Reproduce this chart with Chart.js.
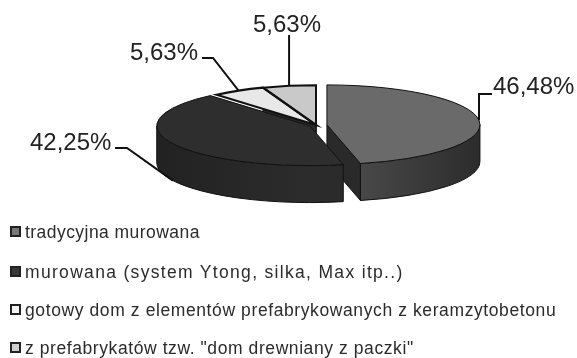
<!DOCTYPE html>
<html lang="pl">
<head>
<meta charset="utf-8">
<title>Rodzaj budowy domu</title>
<script src="https://cdn.jsdelivr.net/npm/chart.js@4"></script>
<style>
    html, body { margin: 0; padding: 0; background: #fff; }
    #wrap { position: relative; width: 577px; height: 358px; overflow: hidden; }
    #legend { position: absolute; left: 10px; top: 0; font-family: "Liberation Sans", Arial, sans-serif; font-size: 17.5px; color: #2b2b2b; }
    .row { position: absolute; left: 0; white-space: nowrap; line-height: 18px; }
    .swatch { position: absolute; left: 0; top: 3px; width: 7px; height: 7px; border: 2px solid #222; }
    .name { position: absolute; left: 15px; top: 0; }
</style>
</head>
<body>
<div id="wrap">
    <canvas id="pie" width="577" height="358"></canvas>
    <div id="legend"></div>
</div>
<script>
// ========== DATA ==========
const categories = [
    'tradycyjna murowana',
    'murowana (system Ytong, silka, Max itp..)',
    'gotowy dom z elementów prefabrykowanych z keramzytobetonu',
    'z prefabrykatów tzw. "dom drewniany z paczki"'
];
const shares = [46.48, 42.25, 5.63, 5.63];
const topColors = ['#6a6a6a', '#2e2e2e', '#e8e8e8', '#c9c9c9'];
const swatchColors = ['#777777', '#383838', '#f4f4f4', '#cfcfcf'];

// ========== LAYOUT ==========
const explode = [11, 7, 0, 0];   // how far each slice is pulled out, px
const SQUASH = 0.26;             // vertical flattening of the disc
const DEPTH = 37;                // height of the disc, px
const RADIUS = 153;
const legendRows = [223, 263, 301, 339];
const legendSpacing = [0.45, 1.32, 0.6, 0.58];
const outlineWidths = [1, 1, 2.2, 2];
const labelSpots = [
    { x: 493, y: 94, line: [[492, 94], [479, 94]] },
    { x: 30, y: 150, line: [[115, 148], [127, 148]] },
    { x: 130, y: 60, line: [[202, 58], [213, 58]] },
    { x: 253, y: 32, line: [] }
];
const labelFont = '24px "Liberation Sans", Arial, sans-serif';

function midAngle(arc) {
    return (arc.startAngle + arc.endAngle) / 2;
}

function arcCenter(arc, index) {
    const mid = midAngle(arc);
    return {
        x: arc.x + Math.cos(mid) * explode[index],
        y: arc.y + Math.sin(mid) * explode[index] * SQUASH
    };
}

function drawWall(ctx, arc, index) {
    const c = arcCenter(arc, index);
    const r = arc.outerRadius;
    const ry = r * SQUASH;
    const from = Math.max(arc.startAngle, 0);
    const to = Math.min(arc.endAngle, Math.PI);

    // cut face of the slice, only visible where it turns to the viewer
    const endX = c.x + Math.cos(arc.endAngle) * r;
    const endY = c.y + Math.sin(arc.endAngle) * ry;
    if (arc.endAngle < Math.PI / 2 || index >= 2) {
        ctx.beginPath();
        ctx.moveTo(c.x, c.y);
        ctx.lineTo(endX, endY);
        ctx.lineTo(endX, endY + DEPTH);
        ctx.lineTo(c.x, c.y + DEPTH);
        ctx.closePath();
        ctx.fillStyle = '#2a2a2a';
        ctx.strokeStyle = '#111';
        ctx.lineWidth = 1;
        ctx.fill();
        ctx.stroke();
    }

    if (to <= from) return;
    const grad = ctx.createLinearGradient(c.x - r, 0, c.x + r, 0);
    if (index === 0) {
        grad.addColorStop(0, '#555');
        grad.addColorStop(0.55, '#4c4c4c');
        grad.addColorStop(1, '#2c2c2c');
    } else {
        grad.addColorStop(0, '#222');
        grad.addColorStop(0.5, '#2c2c2c');
        grad.addColorStop(1, '#242424');
    }
    ctx.beginPath();
    ctx.ellipse(c.x, c.y, r, ry, 0, from, to);
    ctx.ellipse(c.x, c.y + DEPTH, r, ry, 0, to, from, true);
    ctx.closePath();
    ctx.fillStyle = grad;
    ctx.strokeStyle = '#111';
    ctx.lineWidth = 1;
    ctx.fill();
    ctx.stroke();
}

function drawOutline(ctx, arc, index) {
    const c = arcCenter(arc, index);
    const r = arc.outerRadius;
    ctx.beginPath();
    ctx.moveTo(c.x, c.y);
    ctx.ellipse(c.x, c.y, r, r * SQUASH, 0, arc.startAngle, arc.endAngle);
    ctx.closePath();
    ctx.strokeStyle = '#111';
    ctx.lineWidth = outlineWidths[index];
    ctx.stroke();
}

// the disc: walls first, then the flattened, pulled-out arcs of the pie
const discPlugin = {
    id: 'disc',
    beforeDatasetDraw(chart) {
        const ctx = chart.ctx;
        const arcs = chart.getDatasetMeta(0).data;
        ctx.save();
        [3, 2, 0, 1].forEach(i => drawWall(ctx, arcs[i], i));
        ctx.restore();

        arcs.forEach((arc, i) => {
            const c = arcCenter(arc, i);
            ctx.save();
            ctx.translate(c.x, c.y);
            ctx.scale(1, SQUASH);
            ctx.translate(-arc.x, -arc.y);
            arc.draw(ctx);
            ctx.restore();
        });
        return false;
    },
    afterDatasetsDraw(chart) {
        const ctx = chart.ctx;
        const arcs = chart.getDatasetMeta(0).data;
        ctx.save();
        [0, 3, 2, 1].forEach(i => drawOutline(ctx, arcs[i], i));

        // value labels with leader lines running to the rim of each slice
        ctx.font = labelFont;
        ctx.fillStyle = '#222';
        ctx.textBaseline = 'alphabetic';
        arcs.forEach((arc, i) => {
            const spot = labelSpots[i];
            ctx.fillText(shares[i].toFixed(2).replace('.', ',') + '%', spot.x, spot.y);

            const c = arcCenter(arc, i);
            const mid = midAngle(arc);
            const rimX = c.x + Math.cos(mid) * arc.outerRadius;
            let rimY = c.y + Math.sin(mid) * arc.outerRadius * SQUASH;
            if (Math.sin(mid) > 0.2) rimY += DEPTH;

            ctx.beginPath();
            if (spot.line.length) {
                ctx.moveTo(spot.line[0][0], spot.line[0][1]);
                spot.line.slice(1).forEach(p => ctx.lineTo(p[0], p[1]));
            } else {
                ctx.moveTo(rimX, 35);
            }
            ctx.lineTo(rimX, rimY);
            ctx.strokeStyle = '#111';
            ctx.lineWidth = 2;
            ctx.stroke();
        });
        ctx.restore();
    }
};

new Chart(document.getElementById('pie').getContext('2d'), {
    type: 'pie',
    data: {
        labels: categories,
        datasets: [{
            data: shares,
            backgroundColor: topColors,
            borderWidth: 0,
            clip: false
        }]
    },
    options: {
        responsive: false,
        animation: false,
        radius: RADIUS,
        layout: { padding: { left: 55, top: 0, right: 0, bottom: 108 } },
        plugins: {
            legend: { display: false },
            tooltip: { enabled: false }
        }
    },
    plugins: [discPlugin]
});

// ========== LEGEND ==========
const legend = document.getElementById('legend');
legend.innerHTML = categories.map((name, i) => `
    <div class="row" style="top: ${legendRows[i]}px">
        <span class="swatch" style="background: ${swatchColors[i]}"></span>
        <span class="name" style="letter-spacing: ${legendSpacing[i]}px">${name.replace(/"/g, '&quot;')}</span>
    </div>
`).join('');
</script>
</body>
</html>
